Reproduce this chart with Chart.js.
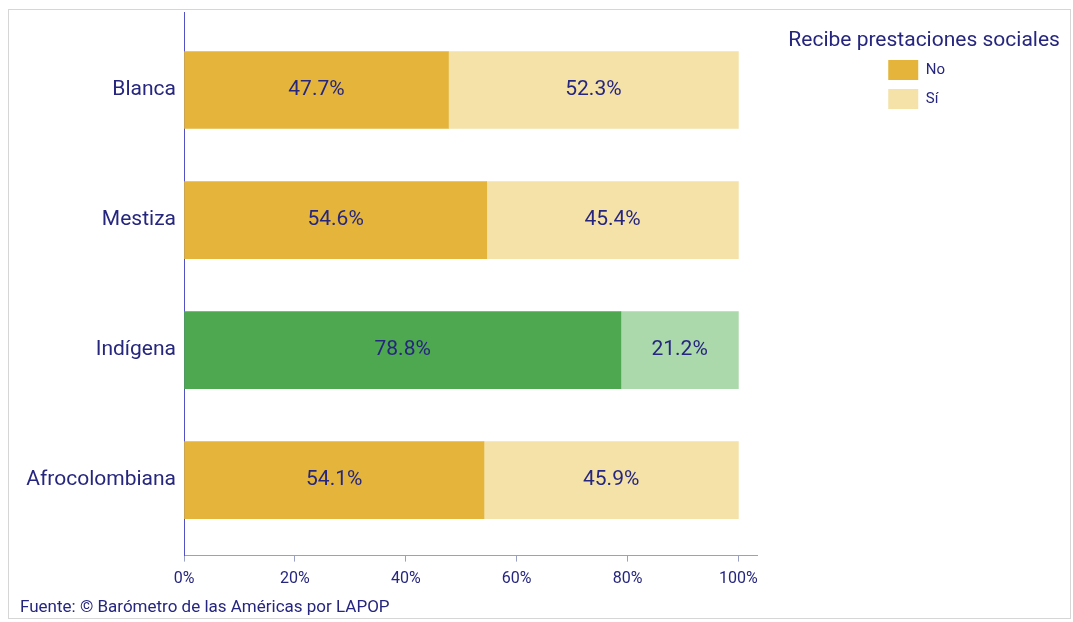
<!DOCTYPE html>
<html>
<head>
<meta charset="utf-8">
<script src="https://cdn.jsdelivr.net/npm/chart.js@4"></script>
<style>
  body { margin: 0; background: #fff; }
  #frame { position: absolute; left: 8px; top: 9px; width: 1061px; height: 608px; border: 1px solid #d6d6d6; }
  #wrap { position: absolute; left: 0; top: 0; width: 1073px; height: 622px; }
</style>
</head>
<body>
<div id="frame"></div>
<div id="wrap"><canvas id="myChart" width="1073" height="622"></canvas></div>
<script>
const categories = ['Blanca', 'Mestiza', 'Indígena', 'Afrocolombiana'];
const noValues = [47.7, 54.6, 78.8, 54.1];
const siValues = [52.3, 45.4, 21.2, 45.9];
const xTicks = [0, 20, 40, 60, 80, 100];
const highlightIndex = 2; // Indígena drawn in green

const navy = '#26267f';
Chart.defaults.font.family = 'Roboto';

// write the percentage in the middle of every segment
const barLabels = {
    id: 'barLabels',
    afterDatasetsDraw(chart) {
        const ctx = chart.ctx;
        ctx.save();
        ctx.font = '21px Roboto';
        ctx.fillStyle = navy;
        ctx.textAlign = 'center';
        ctx.textBaseline = 'middle';
        chart.data.datasets.forEach(function(ds, i) {
            chart.getDatasetMeta(i).data.forEach(function(bar, j) {
                const p = bar.getCenterPoint();
                ctx.fillText(ds.data[j].x.toFixed(1) + '%', p.x, p.y);
            });
        });
        ctx.restore();
    }
};

// legend title is wider than the legend box (which clips it), so draw it here
const legendTitle = {
    id: 'legendTitle',
    afterDraw(chart) {
        const lg = chart.legend;
        const t = chart.options.plugins.legend.title;
        const ctx = chart.ctx;
        ctx.save();
        ctx.font = '21px Roboto';
        ctx.fillStyle = navy;
        ctx.textAlign = 'center';
        ctx.textBaseline = 'middle';
        ctx.fillText(t.text, (lg.left + lg.right) / 2 + 7, lg.top + 18 + 10.5);
        ctx.restore();
    }
};

function pick(main, other) {
    return function(c) { return c.dataIndex === highlightIndex ? other : main; };
}

var ctx = document.getElementById('myChart').getContext('2d');
var chart = new Chart(ctx, {
    type: 'bar',
    data: {
        datasets: [{
            label: 'No',
            data: noValues.map((v, i) => ({x: v, y: i})),
            backgroundColor: pick('#e4b53a', '#4ea84f'),
            borderWidth: 0,
            barThickness: 77
        }, {
            label: 'Sí',
            data: siValues.map((v, i) => ({x: v, y: i})),
            backgroundColor: pick('#f4e2a8', '#acd9ab'),
            borderWidth: 0,
            barThickness: 77
        }]
    },
    options: {
        indexAxis: 'y',
        responsive: false,
        animation: false,
        layout: { padding: { top: 12, left: 20, right: 118, bottom: 0 } },
        scales: {
            x: {
                stacked: true,
                min: 0,
                max: 103.4,
                afterBuildTicks: s => { s.ticks = xTicks.map(v => ({value: v})); },
                afterFit: s => { s.height = 42; },
                grid: { drawOnChartArea: false, tickLength: 6, color: '#9aa0c2' },
                border: { color: '#9aa0c2' },
                ticks: { padding: 8, color: navy, font: { size: 16 }, callback: v => v + '%' }
            },
            y: {
                type: 'linear',
                stacked: true,
                reverse: true,
                offset: false,
                min: -0.6,
                max: 3.58,
                afterBuildTicks: s => { s.ticks = categories.map((c, i) => ({value: i})); },
                afterFit: s => { s.width = 164; s.paddingTop = 0; s.paddingBottom = 0; },
                grid: { display: false, drawTicks: false },
                border: { color: '#5252c4' },
                ticks: { padding: 8, color: navy, font: { size: 21 }, callback: v => categories[Math.round(v)] }
            },
            // empty axis, only keeps room between plot and legend
            gap: {
                type: 'linear',
                axis: 'y',
                position: 'right',
                display: true,
                afterFit: s => { s.width = 122; s.paddingTop = 0; s.paddingBottom = 0; },
                grid: { display: false },
                border: { display: false },
                ticks: { display: false }
            }
        },
        plugins: {
            legend: {
                position: 'right',
                align: 'start',
                title: {
                    display: true,
                    text: 'Recibe prestaciones sociales',
                    color: 'transparent',
                    font: { size: 21, lineHeight: 1 },
                    padding: { top: 18, bottom: 0 }
                },
                labels: { boxWidth: 30, boxHeight: 20, padding: 9, color: navy, font: { size: 15 } }
            },
            subtitle: {
                display: true,
                position: 'bottom',
                align: 'start',
                text: 'Fuente: © Barómetro de las Américas por LAPOP',
                color: navy,
                font: { size: 17 },
                padding: { top: 0, bottom: 4 }
            },
            tooltip: { enabled: false }
        }
    },
    plugins: [barLabels, legendTitle]
});
</script>
</body>
</html>
